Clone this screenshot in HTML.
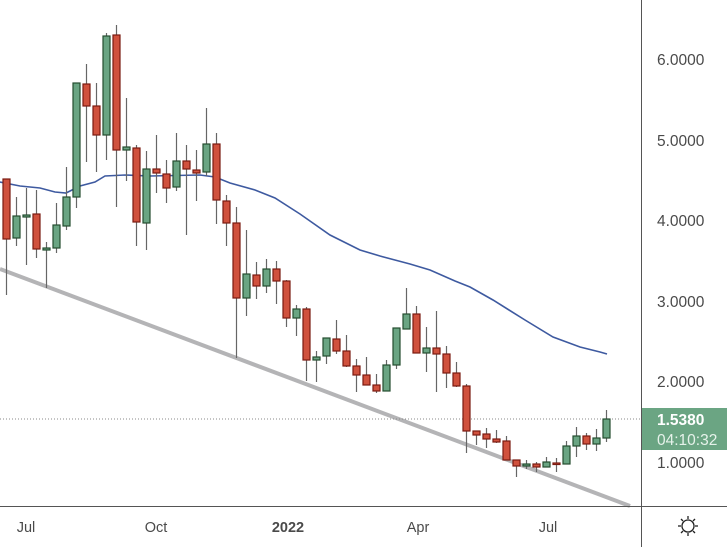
<!DOCTYPE html>
<html><head><meta charset="utf-8"><style>
html,body{margin:0;padding:0;background:#fff;}
svg{display:block;font-family:"Liberation Sans","DejaVu Sans",sans-serif;}
</style></head><body>
<svg width="727" height="547" viewBox="0 0 727 547" xmlns="http://www.w3.org/2000/svg">
<rect width="727" height="547" fill="#fff"/>
<line x1="0" y1="269" x2="630" y2="506" stroke="#b4b4b6" stroke-width="4"/>
<polyline fill="none" stroke="#3e5aa0" stroke-width="1.6" points="0,182 20,186 40,188 55,192 66,193 80,186 95,182 105,176 125,175 150,176 200,175 215,177 230,183 255,190 275,198 300,214 330,235 360,250 380,256 410,264 430,270 455,281 470,287 493,300 525,320 553,337 580,347 600,352 607,354"/>
<line x1="0" y1="419" x2="641" y2="419" stroke="#888" stroke-width="1" stroke-dasharray="1,2"/>
<g stroke="#666" stroke-width="1.2">
<line x1="6.5" y1="179" x2="6.5" y2="295"/><line x1="16.5" y1="197" x2="16.5" y2="246"/><line x1="26.5" y1="188" x2="26.5" y2="265"/><line x1="36.5" y1="190" x2="36.5" y2="258"/><line x1="46.5" y1="242" x2="46.5" y2="288"/><line x1="56.5" y1="203" x2="56.5" y2="253"/><line x1="66.5" y1="167" x2="66.5" y2="230"/><line x1="76.5" y1="83" x2="76.5" y2="208"/><line x1="86.5" y1="64" x2="86.5" y2="162"/><line x1="96.5" y1="83" x2="96.5" y2="172"/><line x1="106.5" y1="33" x2="106.5" y2="160"/><line x1="116.5" y1="25" x2="116.5" y2="207"/><line x1="126.5" y1="98" x2="126.5" y2="181"/><line x1="136.5" y1="145" x2="136.5" y2="246"/><line x1="146.5" y1="151" x2="146.5" y2="250"/><line x1="156.5" y1="135" x2="156.5" y2="193"/><line x1="166.5" y1="160" x2="166.5" y2="203"/><line x1="176.5" y1="133" x2="176.5" y2="191"/><line x1="186.5" y1="145" x2="186.5" y2="235"/><line x1="196.5" y1="150" x2="196.5" y2="201"/><line x1="206.5" y1="108" x2="206.5" y2="176"/><line x1="216.5" y1="133" x2="216.5" y2="224"/><line x1="226.5" y1="195" x2="226.5" y2="246"/><line x1="236.5" y1="207" x2="236.5" y2="358"/><line x1="246.5" y1="230" x2="246.5" y2="316"/><line x1="256.5" y1="262" x2="256.5" y2="299"/><line x1="266.5" y1="259" x2="266.5" y2="293"/><line x1="276.5" y1="261" x2="276.5" y2="304"/><line x1="286.5" y1="280" x2="286.5" y2="327"/><line x1="296.5" y1="305" x2="296.5" y2="336"/><line x1="306.5" y1="307" x2="306.5" y2="381"/><line x1="316.5" y1="351" x2="316.5" y2="382"/><line x1="326.5" y1="338" x2="326.5" y2="364"/><line x1="336.5" y1="320" x2="336.5" y2="354"/><line x1="346.5" y1="335" x2="346.5" y2="367"/><line x1="356.5" y1="359" x2="356.5" y2="392"/><line x1="366.5" y1="357" x2="366.5" y2="385"/><line x1="376.5" y1="374" x2="376.5" y2="393"/><line x1="386.5" y1="360" x2="386.5" y2="391"/><line x1="396.5" y1="328" x2="396.5" y2="369"/><line x1="406.5" y1="288" x2="406.5" y2="329"/><line x1="416.5" y1="306" x2="416.5" y2="353"/><line x1="426.5" y1="327" x2="426.5" y2="372"/><line x1="436.5" y1="311" x2="436.5" y2="392"/><line x1="446.5" y1="346" x2="446.5" y2="388"/><line x1="456.5" y1="362" x2="456.5" y2="387"/><line x1="466.5" y1="384" x2="466.5" y2="453"/><line x1="476.5" y1="431" x2="476.5" y2="445"/><line x1="486.5" y1="428" x2="486.5" y2="448"/><line x1="496.5" y1="430" x2="496.5" y2="443"/><line x1="506.5" y1="436" x2="506.5" y2="460"/><line x1="516.5" y1="460" x2="516.5" y2="477"/><line x1="526.5" y1="460" x2="526.5" y2="469"/><line x1="536.5" y1="462" x2="536.5" y2="472"/><line x1="546.5" y1="457" x2="546.5" y2="467"/><line x1="556.5" y1="458" x2="556.5" y2="472"/><line x1="566.5" y1="441" x2="566.5" y2="464"/><line x1="576.5" y1="427" x2="576.5" y2="457"/><line x1="586.5" y1="433" x2="586.5" y2="450"/><line x1="596.5" y1="429" x2="596.5" y2="451"/><line x1="606.5" y1="410" x2="606.5" y2="442"/>
</g>
<g stroke-width="1.2">
<g fill="#d0513d" stroke="#7a1a10">
<rect x="3" y="179" width="7" height="60"/><rect x="33" y="214" width="7" height="35"/><rect x="83" y="84" width="7" height="22"/><rect x="93" y="106" width="7" height="29"/><rect x="113" y="35" width="7" height="115"/><rect x="133" y="148" width="7" height="74"/><rect x="153" y="169" width="7" height="4"/><rect x="163" y="174" width="7" height="14"/><rect x="183" y="161" width="7" height="8"/><rect x="193" y="170" width="7" height="3"/><rect x="213" y="144" width="7" height="56"/><rect x="223" y="201" width="7" height="22"/><rect x="233" y="223" width="7" height="75"/><rect x="253" y="275" width="7" height="11"/><rect x="273" y="269" width="7" height="12"/><rect x="283" y="281" width="7" height="37"/><rect x="303" y="309" width="7" height="51"/><rect x="333" y="339" width="7" height="12"/><rect x="343" y="351" width="7" height="15"/><rect x="353" y="366" width="7" height="9"/><rect x="363" y="375" width="7" height="10"/><rect x="373" y="385" width="7" height="6"/><rect x="413" y="314" width="7" height="39"/><rect x="433" y="348" width="7" height="6"/><rect x="443" y="354" width="7" height="19"/><rect x="453" y="373" width="7" height="13"/><rect x="463" y="386" width="7" height="45"/><rect x="473" y="431" width="7" height="4"/><rect x="483" y="434" width="7" height="5"/><rect x="493" y="439" width="7" height="3"/><rect x="503" y="441" width="7" height="19"/><rect x="513" y="460" width="7" height="6"/><rect x="533" y="464" width="7" height="3"/><rect x="553" y="463" width="7" height="1.5"/><rect x="583" y="436" width="7" height="8"/>
</g>
<g fill="#6aa583" stroke="#244d30">
<rect x="13" y="216" width="7" height="22"/><rect x="23" y="215" width="7" height="2"/><rect x="43" y="248" width="7" height="2"/><rect x="53" y="225" width="7" height="23"/><rect x="63" y="197" width="7" height="29"/><rect x="73" y="83" width="7" height="114"/><rect x="103" y="36" width="7" height="99"/><rect x="123" y="147" width="7" height="3"/><rect x="143" y="169" width="7" height="54"/><rect x="173" y="161" width="7" height="26"/><rect x="203" y="144" width="7" height="28"/><rect x="243" y="274" width="7" height="24"/><rect x="263" y="269" width="7" height="17"/><rect x="293" y="309" width="7" height="9"/><rect x="313" y="357" width="7" height="3"/><rect x="323" y="338" width="7" height="18"/><rect x="383" y="365" width="7" height="26"/><rect x="393" y="328" width="7" height="37"/><rect x="403" y="314" width="7" height="15"/><rect x="423" y="348" width="7" height="5"/><rect x="523" y="464" width="7" height="2"/><rect x="543" y="462" width="7" height="5"/><rect x="563" y="446" width="7" height="18"/><rect x="573" y="436" width="7" height="10"/><rect x="593" y="438" width="7" height="6"/><rect x="603" y="419" width="7" height="19"/>
</g>
</g>
<line x1="641.5" y1="0" x2="641.5" y2="547" stroke="#555" stroke-width="1"/>
<line x1="0" y1="506.5" x2="727" y2="506.5" stroke="#555" stroke-width="1"/>
<rect x="642" y="408" width="85" height="42" fill="#6ba583"/>
<g font-size="15.5" fill="#4a4a4a">
<text x="657" y="65">6.0000</text>
<text x="657" y="146">5.0000</text>
<text x="657" y="226">4.0000</text>
<text x="657" y="307">3.0000</text>
<text x="657" y="387">2.0000</text>
<text x="657" y="468">1.0000</text>
<text x="657" y="425" fill="#fff" font-weight="bold">1.5380</text>
<text x="657" y="445" fill="#e6f2ea">04:10:32</text>
</g>
<g font-size="14.5" fill="#4a4a4a" text-anchor="middle">
<text x="26" y="532">Jul</text>
<text x="156" y="532">Oct</text>
<text x="288" y="532" font-weight="bold">2022</text>
<text x="418" y="532">Apr</text>
<text x="548" y="532">Jul</text>
</g>
<g stroke="#222" stroke-width="1.3" fill="none">
<circle cx="688" cy="526" r="6"/>
<line x1="688" y1="516" x2="688" y2="519"/><line x1="688" y1="533" x2="688" y2="536"/>
<line x1="678" y1="526" x2="681" y2="526"/><line x1="695" y1="526" x2="698" y2="526"/>
<line x1="681" y1="519" x2="683" y2="521"/><line x1="693" y1="531" x2="695" y2="533"/>
<line x1="695" y1="519" x2="693" y2="521"/><line x1="681" y1="533" x2="683" y2="531"/>
</g>
</svg>
</body></html>
